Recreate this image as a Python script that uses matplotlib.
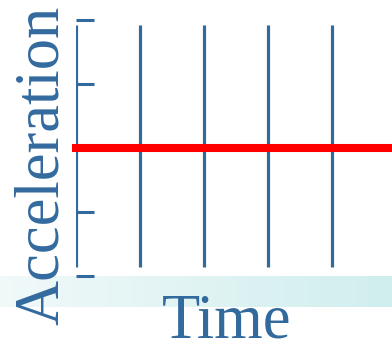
import matplotlib
matplotlib.use("Agg")
import matplotlib.pyplot as plt
import numpy as np

# data
time_marks = [0, 1, 2, 3, 4]
accel_ticks = [-2, -1, 0, 1, 2]
acceleration = 0.0
x_label = "Time"
y_label = "Acceleration"

blue = "#336a9e"
W, H = 392, 342

fig = plt.figure(figsize=(W / 100, H / 100), dpi=100)

# light gradient strip behind the x label
band = fig.add_axes([0, (H - 307) / H, 1, 31 / H])
grad = np.linspace(0, 1, 256)[None, :]
from matplotlib.colors import LinearSegmentedColormap
cmap = LinearSegmentedColormap.from_list("band", ["#f1f9f9", "#d0eeee"])
band.imshow(grad, aspect="auto", cmap=cmap, extent=[0, 1, 0, 1])
band.axis("off")

ax = fig.add_axes([76 / W, (H - 276) / H, (W - 76) / W, 256 / H])
ax.set_xlim(0, (W - 76) / 64)
ax.set_ylim(accel_ticks[0], accel_ticks[-1])
ax.patch.set_alpha(0)

ax.vlines(time_marks, -1.86, 1.92, color=blue, lw=2.3)
ax.axhline(acceleration, color="red", lw=5.8, solid_capstyle="projecting", clip_on=False)

ax.set_yticks(accel_ticks)
ax.set_xticks([])
ax.tick_params(axis="y", direction="in", length=13, width=2.2, color=blue, labelleft=False)
for s in ax.spines.values():
    s.set_visible(False)

serif = ["Liberation Serif", "DejaVu Serif"]
fig.text(227 / W, (H - 337) / H, x_label, family=serif, fontsize=45, color=blue,
         ha="center", va="baseline", rotation_mode="anchor")
fig.text(58 / W, (H - 165) / H, y_label, family=serif, fontsize=45, color=blue,
         ha="center", va="baseline", rotation=90, rotation_mode="anchor")

fig.savefig("out.png", dpi=100)
